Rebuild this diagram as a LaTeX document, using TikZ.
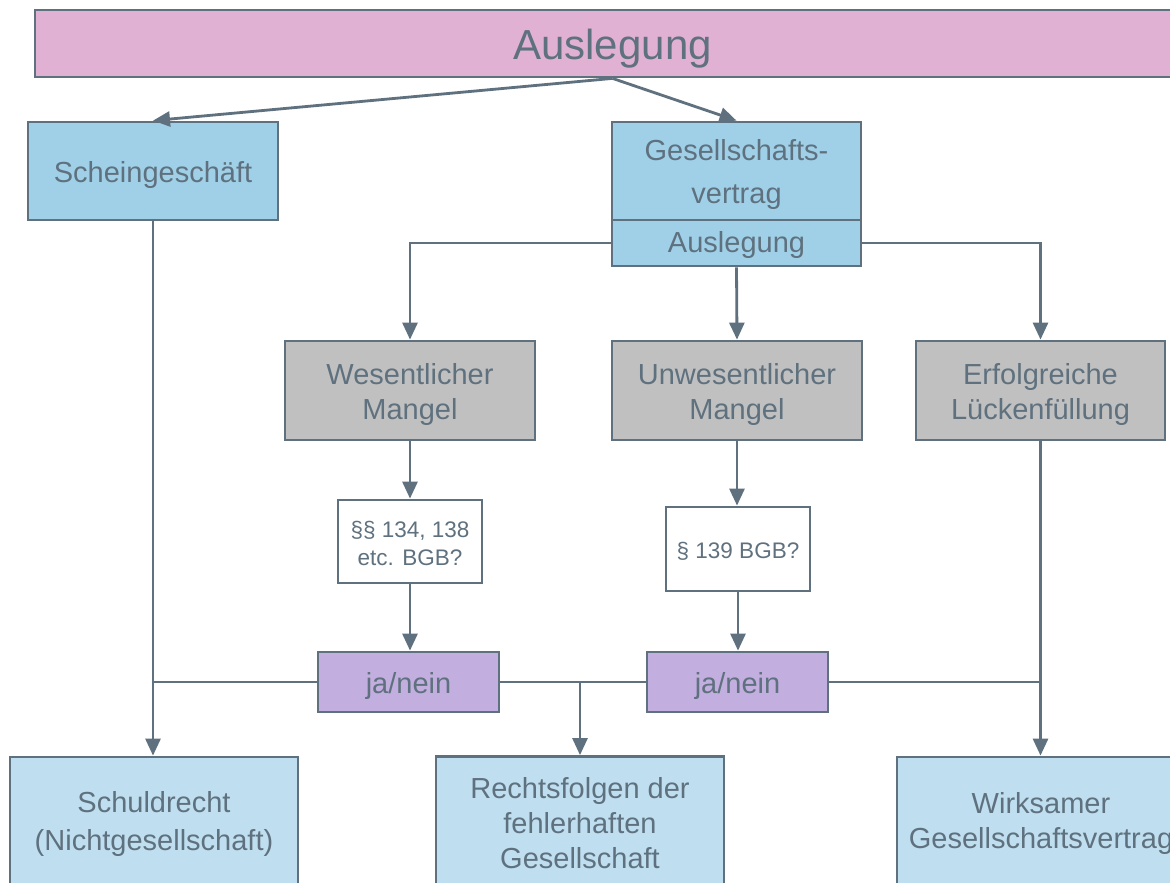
\documentclass[tikz,border=0pt]{standalone}
\usepackage{fontspec}
\setmainfont{Liberation Sans}
\usetikzlibrary{arrows.meta,calc}
\definecolor{lnc}{HTML}{5F717E}
\definecolor{pinkc}{HTML}{E1B1D3}
\definecolor{bluec}{HTML}{9FD0E8}
\definecolor{lbluec}{HTML}{BFDFF0}
\definecolor{grayc}{HTML}{C0C0C0}
\definecolor{purc}{HTML}{C3AEE0}
\begin{document}
\begin{tikzpicture}[x=1pt,y=-1pt,
  box/.style={draw=lnc, line width=2.8pt, inner sep=0pt},
  txt/.style={text=lnc, align=center, inner sep=0pt, yshift=-4pt, font=\fontsize{29}{35}\selectfont},
  btxt/.style={txt, yshift=4pt},
  stxt/.style={txt, yshift=2pt, font=\fontsize{22.5}{28}\selectfont},
  arr/.style={draw=lnc, line width=2.8pt, -{Triangle[length=17pt,width=15pt]}},
  conn/.style={draw=lnc, line width=2.8pt}]
\useasboundingbox (0,0) rectangle (1170,883);
\clip (0,0) rectangle (1170,883);
\fill[white] (0,0) rectangle (1170,883);

\node[box, fill=pinkc, minimum width=1155, minimum height=67,
  label={[txt, yshift=-1pt, font=\fontsize{42}{50}\selectfont]center:Auslegung}] (top) at (612.5,43.5) {};

\node[box, fill=bluec, minimum width=250, minimum height=98,
  label={[txt]center:Scheingeschäft}] (sch) at (153,171) {};
\node[box, fill=bluec, minimum width=249, minimum height=98,
  label={[txt, font=\fontsize{29}{43}\selectfont]center:{Gesellschafts-\\vertrag}}] (ges) at (736.5,171) {};
\node[box, fill=bluec, minimum width=249, minimum height=46,
  label={[txt, yshift=2pt]center:Auslegung}] (aus) at (736.5,243) {};

\node[box, fill=grayc, minimum width=250, minimum height=99,
  label={[txt]center:{Wesentlicher\\Mangel}}] (wes) at (410,390.5) {};
\node[box, fill=grayc, minimum width=250, minimum height=99,
  label={[txt]center:{Unwesentlicher\\Mangel}}] (unw) at (737,390.5) {};
\node[box, fill=grayc, minimum width=249, minimum height=99,
  label={[txt]center:{Erfolgreiche\\Lückenfüllung}}] (erf) at (1040.5,390.5) {};

\node[box, fill=white, minimum width=144, minimum height=83,
  label={[stxt]center:{§§ 134, 138\\etc. BGB?}}] (p1) at (410,541.5) {};
\node[box, fill=white, minimum width=144, minimum height=84,
  label={[stxt]center:{§ 139 BGB?}}] (p2) at (738,549) {};

\node[box, fill=purc, minimum width=181, minimum height=60,
  label={[txt]center:ja/nein}] (ja1) at (408.5,682) {};
\node[box, fill=purc, minimum width=181, minimum height=60,
  label={[txt]center:ja/nein}] (ja2) at (737.5,682) {};

\node[box, fill=lbluec, minimum width=288, minimum height=133,
  label={[btxt]center:{Schuldrecht\\[3pt](Nichtgesellschaft)}}] (schuld) at (154,823.5) {};
\node[box, fill=lbluec, minimum width=288, minimum height=133,
  label={[btxt]center:{Rechtsfolgen der\\fehlerhaften\\Gesellschaft}}] (rf) at (580,823) {};
\node[box, fill=lbluec, minimum width=288, minimum height=133,
  label={[btxt]center:{Wirksamer\\Gesellschaftsvertrag}}] (wirk) at (1041,823.5) {};

\draw[arr] (top.south) -- (sch.north);
\draw[arr] (top.south) -- (ges.north);
\draw[arr] (aus.west) -| (wes.north);
\draw[arr] (aus.south) -- (unw.north);
\draw[arr] (aus.east) -| (erf.north);
\draw[arr] (wes.south) -- (p1.north);
\draw[arr] (unw.south) -- (unw.south |- p2.north);
\draw[arr] (p1.south) -- (p1.south |- ja1.north);
\draw[arr] (p2.south) -- (p2.south |- ja2.north);
\draw[arr] (sch.south) -- (sch.south |- schuld.north);
\draw[conn] (ja1.west) -- (ja1.west -| sch.south);
\draw[conn] (ja1.east) -- (ja2.west);
\draw[arr] (rf.north |- ja1.east) -- (rf.north);
\draw[conn] (ja2.east) -- (ja2.east -| erf.south);
\draw[arr] (erf.south) -- (erf.south |- wirk.north);
\end{tikzpicture}
\end{document}
